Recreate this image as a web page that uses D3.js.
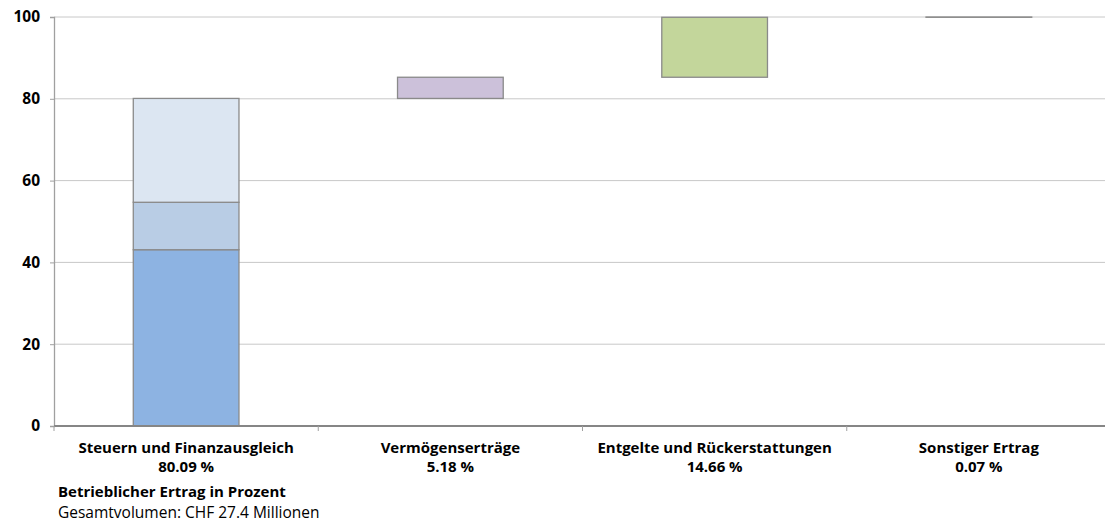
<!DOCTYPE html>
<html>
<head>
<meta charset="utf-8">
<script src="https://cdn.jsdelivr.net/npm/d3@7"></script>
<style>
  body { margin: 0; background: #fff; }
  text { font-family: "Open Sans", sans-serif; fill: #000; }
</style>
</head>
<body>
<svg class="chart"></svg>
<script>
// Data: waterfall of operating revenue shares (percent)
var categories = ["Steuern und Finanzausgleich", "Vermögenserträge", "Entgelte und Rückerstattungen", "Sonstiger Ertrag"];
var shareLabels = ["80.09 %", "5.18 %", "14.66 %", "0.07 %"];
var shares = [80.09, 5.18, 14.66, 0.07];
var firstBarParts = [43.1, 11.6, 25.39]; // stacked sub-parts of the first bar
var firstBarColors = ["#8db3e2", "#b9cde5", "#dce6f2"];
var barColors = ["#dce6f2", "#ccc1da", "#c3d69b", "#c3d69b"];
var yTicks = [0, 20, 40, 60, 80, 100];

var width = 1105, height = 523;
var margin = { left: 54, top: 17, right: -6, bottom: 97 };

var svg = d3.select("svg.chart").attr("width", width).attr("height", height);

var x = d3.scaleBand()
    .domain(categories)
    .range([margin.left, width - margin.right])
    .paddingInner(0)
    .paddingOuter(0);

var y = d3.scaleLinear()
    .domain([0, 100])
    .range([height - margin.bottom, margin.top]);

// gridlines
svg.append("g")
    .selectAll("line")
    .data(yTicks.filter(function (d) { return d > 0; }))
    .enter().append("line")
        .attr("x1", margin.left).attr("x2", width)
        .attr("y1", function (d) { return y(d); })
        .attr("y2", function (d) { return y(d); })
        .attr("stroke", "#c8c8c8").attr("stroke-width", 1);

// build segments: waterfall offsets
var segments = [];
var base = 0;
firstBarParts.forEach(function (v, i) {
    segments.push({ cat: categories[0], y0: base, y1: base + v, color: firstBarColors[i] });
    base += v;
});
base = shares[0];
for (var i = 1; i < shares.length; i++) {
    segments.push({ cat: categories[i], y0: base, y1: base + shares[i], color: barColors[i] });
    base += shares[i];
}

var barW = x.bandwidth() * 0.4;

svg.append("g")
    .selectAll("rect")
    .data(segments)
    .enter().append("rect")
        .attr("x", function (d) { return x(d.cat) + (x.bandwidth() - barW) / 2; })
        .attr("width", barW)
        .attr("y", function (d) { return y(d.y1); })
        .attr("height", function (d) { return Math.max(0, y(d.y0) - y(d.y1)); })
        .attr("fill", function (d) { return d.color; })
        .attr("stroke", "#8a8a8a")
        .attr("stroke-width", 1.3);

// y axis
var yAxis = svg.append("g")
    .attr("transform", "translate(" + margin.left + ",0)")
    .call(d3.axisLeft(y).tickValues(yTicks).tickSize(4).tickPadding(10));
yAxis.select(".domain").attr("stroke", "#a0a0a0").attr("stroke-width", 1.3);
yAxis.selectAll(".tick line").attr("stroke", "#a0a0a0");
yAxis.selectAll(".tick text")
    .attr("font-size", 15.5).attr("font-weight", "bold")
    .attr("font-family", "'Open Sans', sans-serif").attr("fill", "#000");

// x axis line and ticks at band boundaries
var y0 = y(0);
svg.append("line")
    .attr("x1", margin.left).attr("x2", width)
    .attr("y1", y0).attr("y2", y0)
    .attr("stroke", "#868686").attr("stroke-width", 2);
svg.append("g")
    .selectAll("line")
    .data(categories)
    .enter().append("line")
        .attr("x1", function (d) { return x(d); })
        .attr("x2", function (d) { return x(d); })
        .attr("y1", y0).attr("y2", y0 + 5)
        .attr("stroke", "#a0a0a0");

// category labels
var labels = svg.append("g")
    .selectAll("text")
    .data(categories)
    .enter().append("text")
        .attr("text-anchor", "middle")
        .attr("font-size", 15).attr("font-weight", "bold")
        .attr("x", function (d) { return x(d) + x.bandwidth() / 2; })
        .attr("y", y0 + 27);
labels.append("tspan").text(function (d) { return d; });
labels.append("tspan")
    .attr("x", function (d) { return x(d) + x.bandwidth() / 2; })
    .attr("dy", 19)
    .text(function (d, i) { return shareLabels[i]; });

// footer
svg.append("text")
    .attr("x", 58).attr("y", 497)
    .attr("font-size", 15).attr("font-weight", "bold")
    .text("Betrieblicher Ertrag in Prozent");
svg.append("text")
    .attr("x", 58).attr("y", 518)
    .attr("font-size", 15.5)
    .text("Gesamtvolumen: CHF 27.4 Millionen");
</script>
</body>
</html>
